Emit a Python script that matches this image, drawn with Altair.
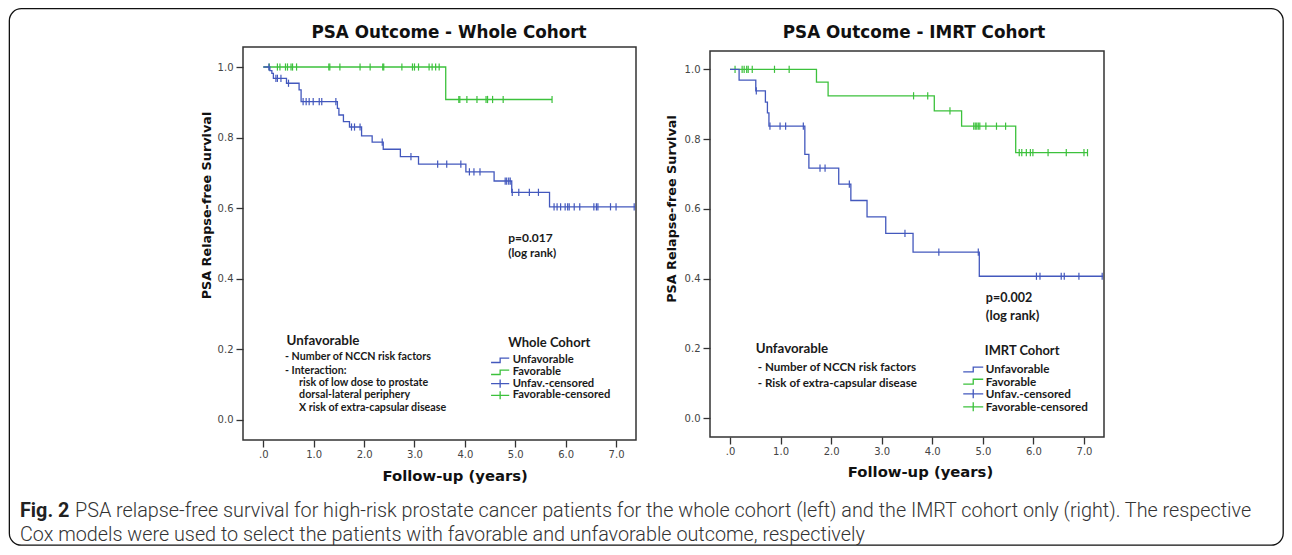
import altair as alt
import pandas as pd

FONT = "Lato"
TITLE_FONT = "DejaVu Sans"
TICK_FONT = "DejaVu Sans"
CAPTION_FONT = "Roboto"
BLUE = "#4358bd"
GREEN = "#3cc13c"
FRAME = "#333333"

X_TICKS = [0, 1, 2, 3, 4, 5, 6, 7]
Y_TICKS = [0.0, 0.2, 0.4, 0.6, 0.8, 1.0]

# ---------------- Whole cohort ----------------
WC_UNF_TIME = [0.0, 0.13, 0.17, 0.20, 0.46, 0.71, 0.75, 1.47, 1.50, 1.59, 1.71,
               1.95, 2.16, 2.38, 2.72, 3.08, 4.02, 4.58, 4.93, 5.68, 7.38]
WC_UNF_SURV = [1.0, 0.990, 0.982, 0.968, 0.954, 0.935, 0.902, 0.883, 0.864, 0.845, 0.830,
               0.805, 0.787, 0.767, 0.746, 0.725, 0.703, 0.677, 0.645, 0.604, 0.604]
WC_UNF_CENSOR = [0.11, 0.25, 0.28, 0.35, 0.50, 0.79, 0.85, 0.91, 0.99, 1.11, 1.16, 1.44,
                 1.75, 1.81, 1.92, 2.36, 2.93, 3.46, 3.64, 3.92, 4.09, 4.18, 4.30, 4.80,
                 4.83, 4.87, 4.90, 4.94, 5.07, 5.28, 5.46, 5.77, 5.83, 5.90, 5.99, 6.04,
                 6.07, 6.17, 6.28, 6.56, 6.61, 6.64, 6.89, 7.00, 7.36]
WC_FAV_TIME = [0.0, 3.62, 5.73]
WC_FAV_SURV = [1.0, 0.908, 0.908]
WC_FAV_CENSOR = [0.12, 0.28, 0.33, 0.44, 0.48, 0.55, 0.58, 0.66, 1.30, 1.32, 1.52, 1.92,
                 2.12, 2.37, 2.39, 2.75, 2.96, 3.00, 3.08, 3.29, 3.35, 3.42, 3.49, 3.88,
                 3.90, 4.04, 4.24, 4.42, 4.45, 4.55, 4.76, 5.73]

# ---------------- IMRT cohort ----------------
IM_UNF_TIME = [0.0, 0.18, 0.51, 0.70, 0.74, 0.77, 1.48, 1.56, 2.15, 2.39, 2.71, 3.08,
               3.62, 4.93, 7.38]
IM_UNF_SURV = [1.0, 0.969, 0.938, 0.906, 0.875, 0.837, 0.756, 0.717, 0.671, 0.624, 0.577,
               0.530, 0.476, 0.407, 0.407]
IM_UNF_CENSOR = [0.52, 0.79, 0.99, 1.10, 1.45, 1.78, 1.88, 2.36, 3.46, 4.13, 4.91, 6.06,
                 6.13, 6.55, 6.61, 6.90, 7.36]
IM_FAV_TIME = [0.0, 1.71, 1.94, 4.04, 4.58, 5.65, 7.07]
IM_FAV_SURV = [1.0, 0.963, 0.924, 0.881, 0.837, 0.761, 0.761]
IM_FAV_CENSOR = [0.10, 0.24, 0.28, 0.33, 0.36, 0.44, 0.88, 1.17, 3.63, 3.91, 4.35, 4.82,
                 4.85, 4.88, 4.91, 4.94, 5.06, 5.27, 5.45, 5.72, 5.77, 5.86, 5.94, 5.99,
                 6.29, 6.65, 7.00, 7.07]

LEGEND_LABELS = ["Unfavorable", "Favorable", "Unfav.-censored", "Favorable-censored"]

WC_TITLE = "PSA Outcome - Whole Cohort"
IM_TITLE = "PSA Outcome - IMRT Cohort"
WC_NOTES = ["p=0.017", "(log rank)", "Unfavorable", "- Number of NCCN risk factors",
            "- Interaction:", "risk of low dose to prostate", "dorsal-lateral periphery",
            "X risk of extra-capsular disease", "Whole Cohort"]
IM_NOTES = ["p=0.002", "(log rank)", "Unfavorable", "- Number of NCCN risk factors",
            "- Risk of extra-capsular disease", "IMRT Cohort"]

CAPTION_BOLD = "Fig. 2"
CAPTION_1 = ("PSA relapse-free survival for high-risk prostate cancer patients for the whole "
             "cohort (left) and the IMRT cohort only (right). The respective")
CAPTION_2 = ("Cox models were used to select the patients with favorable and unfavorable "
             "outcome, respectively")

# placement of the annotations (data units: years, survival) and font sizes
WC_NOTE_POS = [(4.86, 0.516, 12), (4.86, 0.473, 11.7), (0.46, 0.224, 13.4),
               (0.43, 0.178, 10.7), (0.43, 0.140, 10.7), (0.71, 0.105, 10.7),
               (0.71, 0.071, 10.7), (0.71, 0.034, 10.7), (4.86, 0.219, 13)]
IM_NOTE_POS = [(5.06, 0.344, 12.5), (5.06, 0.293, 13), (0.51, 0.198, 13.3),
               (0.55, 0.143, 11.6), (0.55, 0.098, 11.6), (5.04, 0.194, 12.9)]
WC_LEG = dict(sym_t=4.70, txt_t=4.95, rows=[0.169, 0.135, 0.103, 0.070], size=330, fs=11.2)
IM_LEG = dict(sym_t=4.81, txt_t=5.06, rows=[0.140, 0.105, 0.070, 0.033], size=400, fs=11.7)

STEP_PATH = "M-1,0.24L0,0.24L0,-0.24L1,-0.24"
CROSS_PATH = "M-1,0L1,0M0,-0.45L0,0.45"
TICK_PATH = "M0,-1L0,1"


def level_at(times, surv, t):
    lvl = surv[0]
    for a, b in zip(times, surv):
        if a <= t:
            lvl = b
    return lvl


def one():
    return pd.DataFrame({"k": [0]})


def panel(c):
    W, H = c["w"], c["h"]
    xenc = alt.X(
        "t:Q",
        scale=alt.Scale(domain=c["xdom"], nice=False, zero=False),
        axis=alt.Axis(
            values=X_TICKS,
            labelExpr="datum.value == 0 ? '.0' : format(datum.value, '.1f')",
            domain=False, grid=False, tickSize=7, tickWidth=1.3, tickColor=FRAME,
            labelFont=TICK_FONT, labelFontSize=10, labelColor="#444", labelPadding=2,
            labelFlush=False,
            title="Follow-up (years)", titleFont=TITLE_FONT, titleFontSize=14.8,
            titleFontWeight="bold", titleColor="#111", titleX=c["xtx"], titleY=c["xty"],
            titleBaseline="middle", titleAlign="center",
        ),
    )
    yenc = alt.Y(
        "S:Q",
        scale=alt.Scale(domain=c["ydom"], nice=False, zero=False),
        axis=alt.Axis(
            values=Y_TICKS, format=".1f",
            domain=False, grid=False, tickSize=7, tickWidth=1.3, tickColor=FRAME,
            labelFont=TICK_FONT, labelFontSize=10, labelColor="#444", labelPadding=3,
            labelFlush=False,
            title="PSA Relapse-free Survival", titleFont=TITLE_FONT, titleFontSize=12.8,
            titleFontWeight="bold", titleColor="#111", titleX=c["ytx"], titleY=c["yty"],
            titleBaseline="middle", titleAlign="center", titleAngle=270,
        ),
    )

    layers = []
    # plot frame
    layers.append(
        alt.Chart(one()).mark_rect(fill="transparent", stroke=FRAME, strokeWidth=1.5).encode(
            x=alt.value(0), x2=alt.value(W), y=alt.value(c["frame_top"]), y2=alt.value(H)
        )
    )
    # survival curves and censor marks
    for times, surv, cens, col in [
        (c["fav_t"], c["fav_s"], c["fav_c"], GREEN),
        (c["unf_t"], c["unf_s"], c["unf_c"], BLUE),
    ]:
        df = pd.DataFrame({"t": times, "S": surv})
        layers.append(
            alt.Chart(df).mark_line(interpolate="step-after", strokeWidth=1.3, color=col)
            .encode(x=xenc, y=yenc)
        )
        dc = pd.DataFrame({"t": cens, "S": [level_at(times, surv, t) for t in cens]})
        layers.append(
            alt.Chart(dc).mark_point(shape=TICK_PATH, size=52, filled=False, opacity=1,
                                     strokeWidth=1.2, color=col)
            .encode(x=xenc, y=yenc)
        )
    # annotations
    notes = pd.DataFrame({
        "t": [p[0] for p in c["note_pos"]],
        "S": [p[1] for p in c["note_pos"]],
        "fs": [p[2] for p in c["note_pos"]],
        "label": c["notes"],
    })
    layers.append(
        alt.Chart(notes).mark_text(align="left", baseline="middle", font=FONT,
                                   fontWeight="bold", color="#1a1a1a")
        .encode(x=xenc, y=yenc, text="label:N", size=alt.Size("fs:Q", scale=None))
    )
    # legend
    leg = c["leg"]
    sym = pd.DataFrame({
        "t": [leg["sym_t"]] * 4,
        "S": leg["rows"],
        "shape": [STEP_PATH, STEP_PATH, CROSS_PATH, CROSS_PATH],
        "col": [BLUE, GREEN, BLUE, GREEN],
    })
    layers.append(
        alt.Chart(sym).mark_point(filled=False, opacity=1, strokeWidth=1.3, size=leg["size"])
        .encode(x=xenc, y=yenc, shape=alt.Shape("shape:N", scale=None),
                color=alt.Color("col:N", scale=None))
    )
    legtxt = pd.DataFrame({"t": [leg["txt_t"]] * 4, "S": leg["rows"], "label": LEGEND_LABELS})
    layers.append(
        alt.Chart(legtxt).mark_text(align="left", baseline="middle", font=FONT,
                                    fontWeight="bold", fontSize=leg["fs"], color="#1a1a1a")
        .encode(x=xenc, y=yenc, text="label:N")
    )
    # panel title
    layers.append(
        alt.Chart(one()).mark_text(text=c["title"], align="center", baseline="middle",
                                   font=TITLE_FONT, fontSize=16.8, fontWeight="bold",
                                   color="#111")
        .encode(x=alt.value(c["title_x"]), y=alt.value(c["title_y"]))
    )
    if c.get("outer"):
        # outer rounded border of the figure
        layers.append(
            alt.Chart(one()).mark_rect(fill="transparent", stroke="#111", strokeWidth=1.3,
                                       cornerRadius=12)
            .encode(x=alt.value(-233.65), x2=alt.value(1040.2), y=alt.value(-38.3),
                    y2=alt.value(498.2))
        )
        # caption
        layers.append(
            alt.Chart(one()).mark_text(text=CAPTION_BOLD, align="left", baseline="alphabetic",
                                       font=CAPTION_FONT, fontSize=19.8, fontWeight="bold",
                                       color="#222")
            .encode(x=alt.value(-223), y=alt.value(469.5))
        )
        layers.append(
            alt.Chart(one()).mark_text(text=CAPTION_1, align="left", baseline="alphabetic",
                                       font=CAPTION_FONT, fontSize=19.8, fontWeight=300,
                                       color="#333")
            .encode(x=alt.value(-168), y=alt.value(469.5))
        )
        layers.append(
            alt.Chart(one()).mark_text(text=CAPTION_2, align="left", baseline="alphabetic",
                                       font=CAPTION_FONT, fontSize=19.8, fontWeight=300,
                                       color="#333")
            .encode(x=alt.value(-223), y=alt.value(494.3))
        )
    return alt.layer(*layers).properties(width=W, height=H)


left = panel(dict(
    w=393, h=393, frame_top=0,
    xdom=[-0.403, 7.396], ydom=[-0.0567, 1.0567],
    unf_t=WC_UNF_TIME, unf_s=WC_UNF_SURV, unf_c=WC_UNF_CENSOR,
    fav_t=WC_FAV_TIME, fav_s=WC_FAV_SURV, fav_c=WC_FAV_CENSOR,
    notes=WC_NOTES, note_pos=WC_NOTE_POS, leg=WC_LEG,
    title=WC_TITLE, title_x=206, title_y=-13.7,
    ytx=-37, yty=158, xtx=211.7, xty=36.7, outer=True,
))
right = panel(dict(
    w=394, h=390, frame_top=4,
    xdom=[-0.3955, 7.396], ydom=[-0.0536, 1.0639],
    unf_t=IM_UNF_TIME, unf_s=IM_UNF_SURV, unf_c=IM_UNF_CENSOR,
    fav_t=IM_FAV_TIME, fav_s=IM_FAV_SURV, fav_c=IM_FAV_CENSOR,
    notes=IM_NOTES, note_pos=IM_NOTE_POS, leg=IM_LEG,
    title=IM_TITLE, title_x=204, title_y=-14,
    ytx=-38.5, yty=161.5, xtx=210, xty=35.7,
))

chart = (
    alt.hconcat(left, right, spacing=74, bounds="flush")
    .properties(padding=0, background="white")
    .configure_view(stroke=None)
)

chart.save("out.html", embed_options={"renderer": "svg", "actions": False})
